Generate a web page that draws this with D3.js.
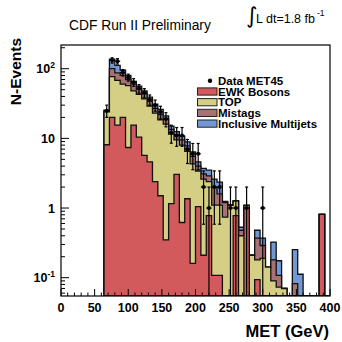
<!DOCTYPE html>
<html><head><meta charset="utf-8">
<script src="https://cdn.jsdelivr.net/npm/d3@7"></script>
<style>html,body{margin:0;padding:0;background:#fff;} svg{display:block;font-family:"Liberation Sans",Arial,Helvetica,sans-serif;}</style>
</head><body>
<svg id="c" width="342" height="342"></svg>
<script>
// ---- data (bin lower edges in GeV, bin width 8 GeV) ----
const binLow = [64,72,80,88,96,104,112,120,128,136,144,152,160,168,176,184,192,200,208,216,224,232,240,248,256,264,272,280,288,296,304,312,320,328,336,344,352,360,368,376,384,392];
const binWidth = 8;
const ewk       = [8.1,20,15.5,20,7.4,15.5,10.4,5.7,4.6,2.4,1.5,0.35,1.16,3.05,0.62,1.36,0.16,1.05,0.21,0.78,0.108,0.108,0,0,0.78,0,1.0,0,0.094,0,0,0,0,0,0,0,0,0,0,0,0.81,0];
const topq      = [15.9,57,52.5,40,49.6,32.5,32.6,31.3,24.4,20.6,17,15.65,10.34,6.45,7.38,5.14,4.14,2.35,2.39,1.62,0.99,0.99,0.74,1.09,0.48,0.4,0.09,0.21,0.086,0.19,0.142,0.09,0.073,0.07,0,0,0,0,0,0,0,0];
const mistags   = [1.0,23,19,20,13,12,8,7,5,4,3.5,3,2,1.8,1.5,1.3,1.2,0.6,0.5,0.5,0.9,0.5,0.46,0,0,0.08,0,0,0.19,0.1,0,0.09,0.035,0,0,0.082,0,0,0,0,0,0];
const multijets = [0.5,37,25,15,10,6,5,4,5,4,4,2,1.5,1.2,1.2,1.1,0.9,0.6,0.6,0.6,0.6,0.76,0.05,0.03,0.02,0.05,0,0,0.11,0.08,0,0.145,0.067,0,0,0.171,0.112,0,0,0,0,0];
const dataCounts= [25,132,128,88,75,64,52,45,36,30,24,19,12,11,11,7,6,6,2,1,2,2,0,1,1,0,1,0,0,1,0,0,0,0,0,0,0,0,0,0,0,0];
const xTickValues = [0,50,100,150,200,250,300,350,400];
const yTickValues = [0.1,1,10,100];
const yTickBase = ["10","1","10","10"];
const yTickSup  = ["-1","","","2"];
const seriesNames = ["EWK Bosons","TOP","Mistags","Inclusive Multijets"];
const seriesColors = ["#d35a5c","#d5cf86","#a87274","#7198d4"];
const dataLabel = "Data MET45";

// ---- layout ----
const L = 61, R = 330, T = 45, B = 296;
const svg = d3.select("#c");
const x = d3.scaleLinear().domain([0,400]).range([L,R]);
const y = d3.scaleLog().domain([0.0546,219]).range([B,T]).clamp(true);
const yv = v => v > 0 ? y(v) : B;

// stacked cumulative
const rows = binLow.map((lo,i)=>({lo, ewk:ewk[i], top:topq[i], mis:mistags[i], qcd:multijets[i]}));
const stack = d3.stack().keys(["ewk","top","mis","qcd"])(rows);

svg.append("clipPath").attr("id","fr").append("rect")
  .attr("x",L).attr("y",T).attr("width",R-L).attr("height",B-T);
const g = svg.append("g").attr("clip-path","url(#fr)");

function stepPath(vals){
  const p = d3.path();
  p.moveTo(x(binLow[0]), B);
  vals.forEach((v,i)=>{
    p.lineTo(x(binLow[i]), yv(v));
    p.lineTo(x(binLow[i]+binWidth), yv(v));
  });
  p.lineTo(x(binLow[binLow.length-1]+binWidth), B);
  p.closePath();
  return p.toString();
}
// draw from top of stack downward
for (let k = stack.length-1; k >= 0; k--) {
  const cum = stack[k].map(d=>d[1]);
  g.append("path").attr("d", stepPath(cum))
    .attr("fill", seriesColors[k]).attr("stroke","#111").attr("stroke-width",1.3)
    .attr("stroke-linejoin","miter");
}

// data points
const dg = g.append("g").attr("stroke","#000").attr("stroke-width",1.2);
binLow.forEach((lo,i)=>{
  const n = dataCounts[i];
  if (n <= 0) return;
  const cx = x(lo + binWidth/2), e = Math.sqrt(n);
  const y0 = yv(n), yHi = yv(n+e), yLo = (n-e) > 0 ? yv(n-e) : B+2;
  dg.append("line").attr("x1",cx).attr("x2",cx).attr("y1",yHi).attr("y2",yLo);
  dg.append("line").attr("x1",cx-1.5).attr("x2",cx+1.5).attr("y1",yHi).attr("y2",yHi);
  if ((n-e) > 0) dg.append("line").attr("x1",cx-1.5).attr("x2",cx+1.5).attr("y1",yLo).attr("y2",yLo);
  dg.append("line").attr("x1",x(lo)).attr("x2",x(lo+binWidth)).attr("y1",y0).attr("y2",y0);
  dg.append("circle").attr("cx",cx).attr("cy",y0).attr("r",2).attr("fill","#000").attr("stroke","none");
});

// frame
svg.append("rect").attr("x",L).attr("y",T).attr("width",R-L).attr("height",B-T)
  .attr("fill","none").attr("stroke","#000").attr("stroke-width",1.2);

// x axis ticks (inside) and labels
const xa = svg.append("g");
d3.range(0,401,10).forEach(v=>{
  const major = v % 50 === 0;
  xa.append("line").attr("x1",x(v)).attr("x2",x(v)).attr("y1",B).attr("y2",B-(major?7:3.5))
    .attr("stroke","#000").attr("stroke-width",1);
});
xTickValues.forEach(v=>{
  xa.append("text").attr("x",x(v)).attr("y",312).attr("text-anchor","middle")
    .attr("font-size",12.5).attr("font-weight","bold").text(v);
});

// y axis ticks (inside, log)
const ya = svg.append("g");
[0.01,0.1,1,10,100].forEach(dec=>{
  for (let m=1;m<=9;m++){
    const v = dec*m;
    if (v < y.domain()[0] || v > y.domain()[1]) continue;
    ya.append("line").attr("x1",L).attr("x2",L+(m===1?8:4)).attr("y1",y(v)).attr("y2",y(v))
      .attr("stroke","#000").attr("stroke-width",1);
  }
});
yTickValues.forEach((v,i)=>{
  const t = ya.append("text").attr("x",55).attr("y",y(v)+4.5).attr("text-anchor","end")
    .attr("font-size",12.5).attr("font-weight","bold");
  t.append("tspan").text(yTickBase[i]);
  if (yTickSup[i]) t.append("tspan").attr("dy",-5).attr("font-size",8.5).text(yTickSup[i]);
});

// axis titles
svg.append("text").attr("x",329).attr("y",337).attr("text-anchor","end")
  .attr("font-size",16.5).attr("font-weight","bold").text("MET (GeV)");
svg.append("text").attr("transform","translate(21,38) rotate(-90)").attr("text-anchor","end")
  .attr("font-size",15.5).attr("font-weight","bold").text("N-Events");

// header texts
svg.append("text").attr("x",69).attr("y",30).attr("font-size",13.8).text("CDF Run II Preliminary");
svg.append("text").attr("x",246).attr("y",23).attr("font-size",22).attr("font-family","DejaVu Sans").text("\u222B");
const lum = svg.append("text").attr("x",256).attr("y",22.5).attr("font-size",12.5);
lum.append("tspan").text("L dt=1.8 fb");
lum.append("tspan").attr("dx",2).attr("dy",-7).attr("font-size",8.5).text("-1");

// legend
const lg = svg.append("g");
const rowY = [80.8,91.5,102.2,112.9,123.6];
lg.append("circle").attr("cx",210).attr("cy",rowY[0]).attr("r",2.2).attr("fill","#000");
lg.append("text").attr("x",218).attr("y",rowY[0]+4).attr("font-size",11.5).attr("font-weight","bold").text(dataLabel);
seriesNames.forEach((nm,i)=>{
  const yy = rowY[i+1];
  lg.append("rect").attr("x",197.5).attr("y",yy-3.6).attr("width",19.5).attr("height",7.2)
    .attr("fill",seriesColors[i]).attr("stroke","#222").attr("stroke-width",1);
  lg.append("text").attr("x",218).attr("y",yy+4).attr("font-size",11.5).attr("font-weight","bold").text(nm);
});
</script>
</body></html>
